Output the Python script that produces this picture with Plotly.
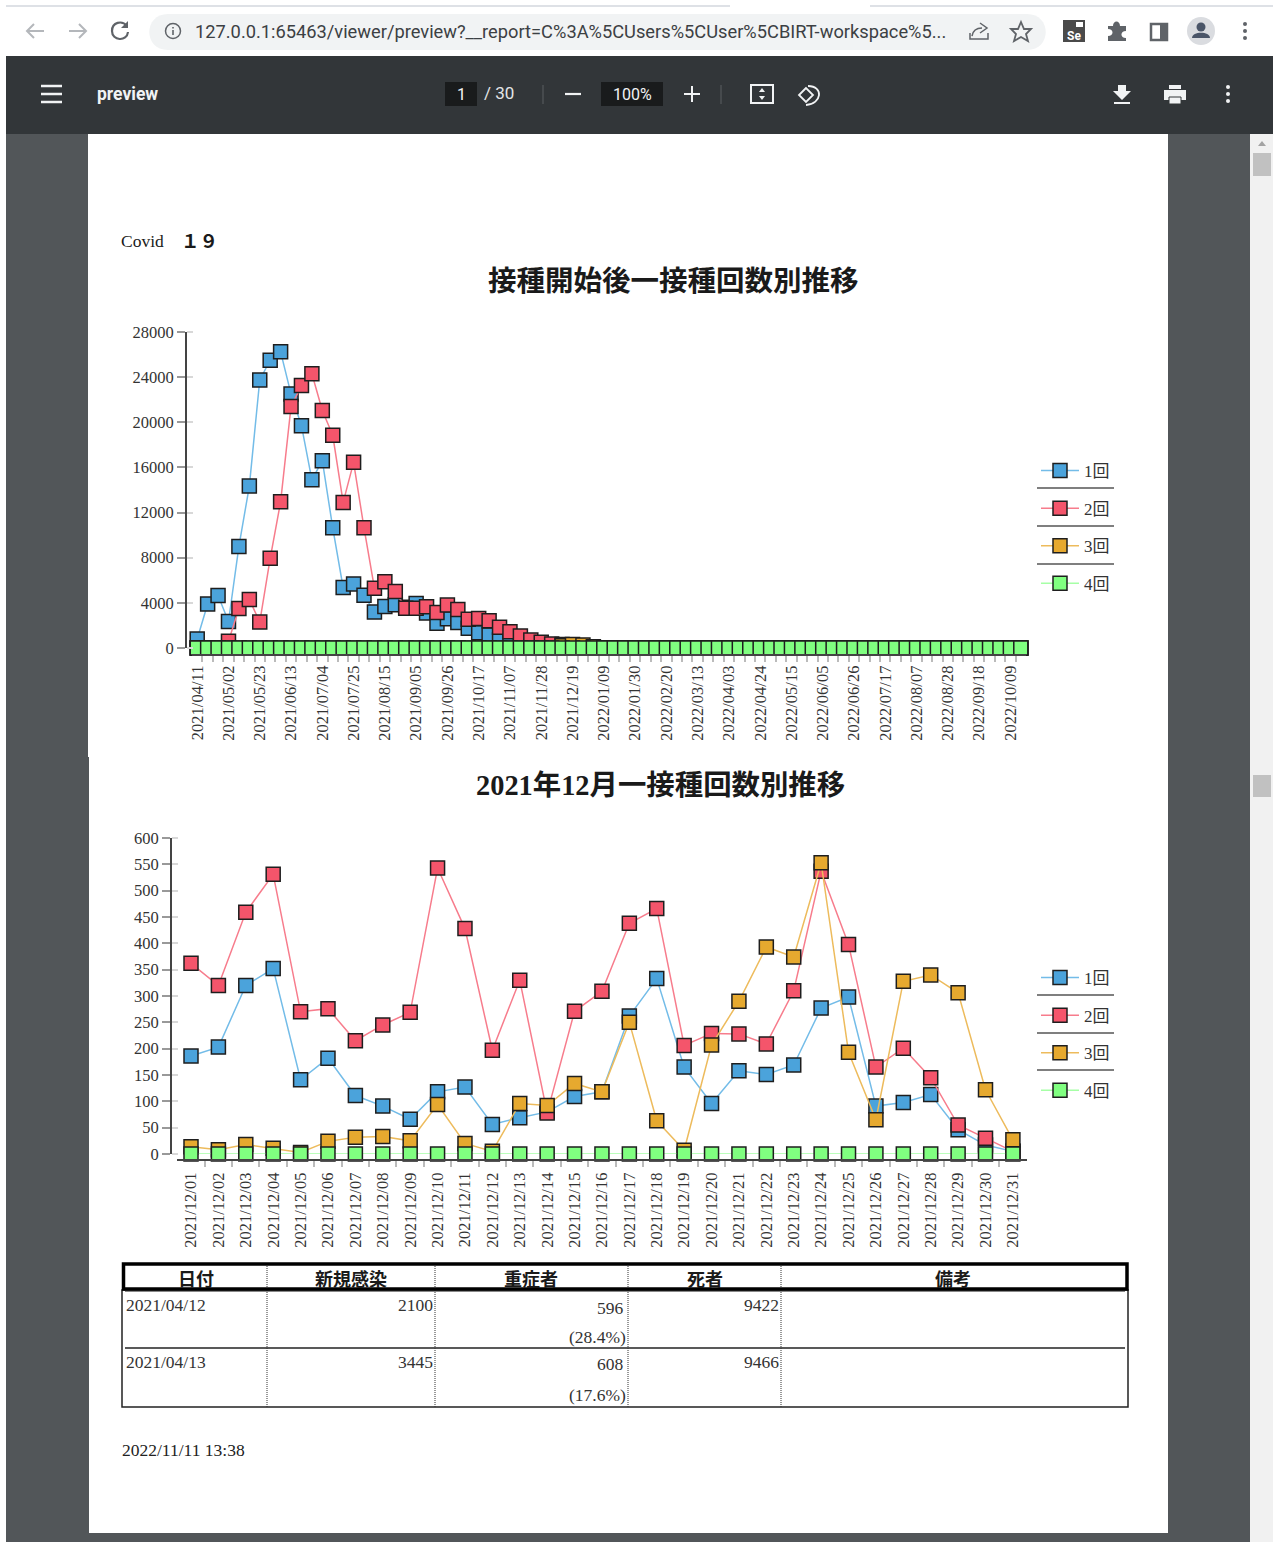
import re
import pandas as pd
import plotly.graph_objects as go

W, H = 1275, 1542
SERIF = "Liberation Serif, Noto Sans CJK JP"
GOTHIC = "Noto Sans CJK JP, sans-serif"
UI = "Roboto, Open Sans, sans-serif"

# --- data ---------------------------------------------------------------
SERIES_NAMES = ["1回", "2回", "3回", "4回"]
MARKER_COLORS = ["#4BA3DB", "#F4556B", "#E6A92F", "#80FF80"]
LINE_COLORS = ["#73BCE8", "#F77C8C", "#EDBB5C", "#A6FFA6"]

weeks = pd.date_range("2021-04-11", periods=80, freq="7D")
weekly_1 = [800, 3900, 4650, 2350, 9000, 14350, 23750, 25500, 26250, 22500, 19700, 14900,
            16600, 10650, 5350, 5680, 4680, 3180, 3680, 3830, 3600, 3950, 3100, 2200, 2600,
            2270, 1750, 1350, 1150, 700, 500, 400, 250, 150, 100, 80, 50, 30] + [0] * 42
weekly_2 = [0, 0, 0, 600, 3500, 4300, 2300, 7950, 12950, 21400, 23250, 24300, 21050, 18850,
            12900, 16450, 10650, 5300, 5880, 5000, 3530, 3530, 3650, 3150, 3800, 3420, 2540,
            2620, 2420, 1830, 1450, 1060, 700, 500, 350, 320, 150, 50] + [0] * 42
weekly_3 = [0] * 35 + [200, 320, 270, 100] + [0] * 41
weekly_4 = [0] * 80

days = pd.date_range("2021-12-01", periods=31, freq="D")
daily_1 = [186, 203, 320, 352, 141, 182, 111, 91, 66, 118, 127, 56, 69, 80, 109, 118, 262, 333,
           165, 96, 158, 151, 169, 277, 298, 91, 98, 113, 46, 17, 5]
daily_2 = [362, 320, 459, 531, 270, 276, 215, 245, 269, 543, 428, 197, 330, 78, 271, 309, 438,
           466, 206, 229, 228, 209, 310, 537, 398, 165, 201, 145, 55, 30, 5]
daily_3 = [14, 8, 18, 11, 3, 24, 32, 33, 25, 94, 20, 5, 96, 92, 134, 118, 250, 63, 7, 207, 290,
           393, 374, 553, 193, 65, 328, 340, 306, 122, 27]
daily_4 = [0] * 31

TITLE_1 = "接種開始後一接種回数別推移"
TITLE_2 = "2021年12月一接種回数別推移"

TABLE_HEADERS = ["日付", "新規感染", "重症者", "死者", "備考"]
TABLE_ROWS = [("2021/04/12", "2100", "596", "(28.4%)", "9422"),
              ("2021/04/13", "3445", "608", "(17.6%)", "9466")]

URL = "127.0.0.1:65463/viewer/preview?__report=C%3A%5CUsers%5CUser%5CBIRT-workspace%5..."


# --- pixel helpers for page furniture -------------------------------------
def fx(x):
    return x / W


def fy(y):
    return 1 - y / H


shapes, notes = [], []


def rect(x0, y0, x1, y1, fill=None, line=None, lw=1, dash=None, layer="below"):
    shapes.append(dict(type="rect", xref="paper", yref="paper", x0=fx(x0), x1=fx(x1), y0=fy(y0), y1=fy(y1),
                       fillcolor=fill, layer=layer,
                       line=dict(color=line, width=lw if line else 0, dash=dash)))


def seg(x0, y0, x1, y1, color, lw=1, dash=None, layer="below"):
    shapes.append(dict(type="line", xref="paper", yref="paper", x0=fx(x0), x1=fx(x1), y0=fy(y0), y1=fy(y1),
                       layer=layer, line=dict(color=color, width=lw, dash=dash)))


def disc(cx, cy, r, fill=None, line=None, lw=1):
    shapes.append(dict(type="circle", xref="paper", yref="paper", x0=fx(cx - r), x1=fx(cx + r),
                       y0=fy(cy - r), y1=fy(cy + r), fillcolor=fill, layer="below",
                       line=dict(color=line, width=lw if line else 0)))


def path(d, fill=None, line=None, lw=1):
    """Absolute M/L/C/Z path given in page pixels."""
    toks = re.findall(r"[MLCZ]|-?\d+\.?\d*", d)
    out, is_x = [], True
    for t in toks:
        if t in "MLCZ":
            out.append(t)
            is_x = True
        else:
            v = float(t)
            out.append(f"{fx(v):.5f}" if is_x else f"{fy(v):.5f}")
            is_x = not is_x
    shapes.append(dict(type="path", xref="paper", yref="paper", path=" ".join(out), layer="below",
                       fillcolor=fill, line=dict(color=line, width=lw if line else 0)))


def text(x, y, s, size, color="#222", anchor="left", family=SERIF, weight="normal"):
    notes.append(dict(xref="paper", yref="paper", x=fx(x), y=fy(y), text=s, showarrow=False,
                      xanchor=anchor, yanchor="middle", borderpad=0,
                      font=dict(family=family, size=size, color=color, weight=weight)))


# --- browser window -------------------------------------------------------
seg(6, 6, 730, 6, "#DEE1E6", 2)
seg(870, 6, 1273, 6, "#DEE1E6", 2)
shapes.append(dict(type="path", xref="paper", yref="paper", layer="below", fillcolor="#F1F3F4", line=dict(width=0),
                   path=" ".join([
                       f"M {fx(168)} {fy(14)} L {fx(1027)} {fy(14)}",
                       f"C {fx(1052)} {fy(14)} {fx(1052)} {fy(50)} {fx(1027)} {fy(50)}",
                       f"L {fx(168)} {fy(50)}",
                       f"C {fx(143)} {fy(50)} {fx(143)} {fy(14)} {fx(168)} {fy(14)} Z"])))
GREY = "#5F6368"
path("M 44 31 L 27 31 M 34 24 L 27 31 L 34 38", line="#B4B7BB", lw=2)
path("M 69 31 L 86 31 M 79 24 L 86 31 L 79 38", line="#B4B7BB", lw=2)
path("M 127 26 C 122 20 112 22 112 31 C 112 41 127 42 128 32", line=GREY, lw=2.2)
path("M 128 21 L 128 28 L 121 28 Z", fill=GREY)
disc(173, 31, 7.5, line=GREY, lw=1.5)
seg(173, 30, 173, 35, GREY, 1.6)
seg(173, 27, 173, 28.5, GREY, 1.6)
text(194, 31, URL, 18.28, "#3C4043", family=UI)
path("M 970 33 L 970 39 L 988 39 L 988 33 M 972 36 C 973 30 977 28 982 28 M 980 23 L 987 28 L 980 33", line=GREY, lw=1.5)
path("M 1021 22 L 1024 29 L 1031 29 L 1026 34 L 1028 41 L 1021 37 L 1014 41 L 1016 34 L 1011 29 L 1018 29 Z",
     line=GREY, lw=1.8)
rect(1063, 20, 1085, 42, fill="#4A4A4A")
rect(1076, 22, 1083, 27, fill="#FFFFFF")
text(1074, 36, "Se", 12, "#FFFFFF", "center", UI, "bold")
path("M 1108 26 L 1113 26 C 1113 20 1120 20 1120 26 L 1126 26 L 1126 31 C 1120 31 1120 38 1126 38 L 1126 41 "
     "L 1108 41 L 1108 36 C 1114 36 1114 29 1108 29 Z", fill=GREY)
rect(1151, 24, 1167, 40, line=GREY, lw=2.5)
rect(1160, 24, 1167, 40, fill=GREY)
disc(1201, 31, 14, fill="#DADCE0")
disc(1201, 27, 4.5, fill="#4A5568")
path("M 1192 38 C 1192 31 1210 31 1210 38 Z", fill="#4A5568")
for yy in (24, 31, 38):
    disc(1245, yy, 2, fill=GREY)

# --- viewer chrome --------------------------------------------------------
rect(6, 134, 1250, H, fill="#525659")
rect(6, 56, 1273, 134, fill="#323639")
rect(1250, 134, 1273, H, fill="#F1F1F1")
rect(1253, 153, 1271, 176, fill="#C1C1C1")
rect(1253, 775, 1271, 797, fill="#C1C1C1")
path("M 1258 146 L 1262 141 L 1266 146 Z", fill="#A3A3A3")
for yy in (86, 94, 102):
    seg(41, yy, 62, yy, "#F1F3F4", 2.5)
text(96, 94, "preview", 17.5, "#F1F3F4", family=UI, weight="bold")
rect(445, 82, 477, 106, fill="#191B1C")
text(461, 94, "1", 16, "#F1F3F4", "center", UI)
text(483, 93, "/ 30", 17, "#E3E5E7", family=UI)
seg(543, 85, 543, 104, "#5B5F63", 1)
seg(565, 94, 581, 94, "#F1F3F4", 2.2)
rect(601, 82, 663, 106, fill="#191B1C")
text(632, 94, "100%", 16, "#F1F3F4", "center", UI)
seg(684, 94, 700, 94, "#F1F3F4", 2)
seg(692, 86, 692, 102, "#F1F3F4", 2)
seg(721, 85, 721, 104, "#5B5F63", 1)
rect(751, 85, 773, 103, line="#F1F3F4", lw=2)
path("M 762 88 L 759 92 L 765 92 Z M 762 100 L 759 96 L 765 96 Z", fill="#F1F3F4")
path("M 806 88 L 799 95 L 806 102 L 813 95 Z", line="#F1F3F4", lw=1.8)
path("M 808 86 C 824 86 822 104 806 105", line="#F1F3F4", lw=1.8)
path("M 1118 85 L 1126 85 L 1126 91 L 1131 91 L 1122 100 L 1113 91 L 1118 91 Z", fill="#F1F3F4")
seg(1114, 103, 1130, 103, "#F1F3F4", 2)
rect(1169, 85, 1181, 89, fill="#F1F3F4")
rect(1164, 90, 1186, 100, fill="#F1F3F4")
rect(1169, 97, 1181, 104, fill="#F1F3F4", line="#323639", lw=1)
for yy in (87, 94, 101):
    disc(1228, yy, 2, fill="#F1F3F4")

# --- report page ----------------------------------------------------------
rect(88, 134, 1168, 757, fill="#FFFFFF")
rect(89, 757, 1168, 1533, fill="#FFFFFF")
text(120, 241, "Covid", 17.5, "#1A1A1A")
text(180, 240, "１９", 18.5, "#1A1A1A", family=GOTHIC, weight="bold")
text(673.5, 278, TITLE_1, 28.5, "#1A1A1A", "center", GOTHIC, "bold")
text(660.5, 785, TITLE_2, 28.4, "#1A1A1A", "center", SERIF, "bold")

# --- table drawn as ruled text --------------------------------------------
COLS = [267, 435, 628, 781]
rect(122, 1290, 1128, 1407, line="#222", lw=1.5)
seg(125, 1348, 1125, 1348, "#222", 1.5)
for cx in COLS:
    seg(cx, 1264, cx, 1407, "#333", 1, "1px,1px")
rect(123.5, 1264, 1127, 1289, line="#000", lw=3.5)
seg(125, 1291.5, 1125, 1291.5, "#888", 1.2)
for cx, label in zip([196, 351, 531, 705, 953], TABLE_HEADERS):
    text(cx, 1278, label, 18, "#1A1A1A", "center", GOTHIC, "bold")
for r, ys in zip(TABLE_ROWS, [(1305, 1308, 1337), (1362, 1364, 1395)]):
    text(125, ys[0], r[0], 17.5, "#333")
    text(433.5, ys[0], r[1], 17.5, "#333", "right")
    text(625, ys[1], r[2], 17.5, "#333", "right")
    text(627, ys[2], r[3], 17.5, "#333", "right")
    text(779.5, ys[0], r[4], 17.5, "#333", "right")
text(121, 1450, "2022/11/11 13:38", 17.5, "#222")

# legend separators
for yy in (488, 526, 564, 995, 1033, 1070):
    seg(1037, yy, 1114, yy, "#555", 1.5)

# --- charts ---------------------------------------------------------------
fig = go.Figure()


def add_chart(x, series, xid, yid, legend):
    for name, vals, mc, lc in zip(SERIES_NAMES, series, MARKER_COLORS, LINE_COLORS):
        fig.add_trace(go.Scatter(x=x, y=vals, name=name, mode="lines+markers", xaxis=xid, yaxis=yid,
                                 legend=legend, legendgroup=legend + name, cliponaxis=False,
                                 line=dict(color=lc, width=1.5),
                                 marker=dict(symbol="square", size=14, color=mc,
                                             line=dict(color="#1E1E1E", width=1.5))))


add_chart(weeks, [weekly_1, weekly_2, weekly_3, weekly_4], "x", "y", "legend")
add_chart(days, [daily_1, daily_2, daily_3, daily_4], "x2", "y2", "legend2")


def axes(x, step, left, right, base, top, zero, yleft, ymax, ydtick, labels, standoff):
    half = step / 2
    bounds = [(d + half) for d in x[:-1]]
    ax_x = dict(type="date", range=[x[0] - half, x[-1] + half], domain=[fx(left), fx(right)],
                anchor="free", position=fy(base), showgrid=False, zeroline=False,
                showline=True, linecolor="#444", linewidth=2, tickmode="array", tickvals=labels,
                ticktext=[d.strftime("%Y/%m/%d") for d in labels], ticks="", tickangle=-90,
                ticklabelstandoff=standoff,
                tickfont=dict(family=SERIF, size=16.5, color="#333"),
                minor=dict(tickmode="array", tickvals=bounds, ticks="outside", ticklen=6,
                           tickcolor="#BBB", tickwidth=1.5, showgrid=False))
    ax_y = dict(range=[0, ymax], domain=[fy(zero), fy(top)], anchor="free", position=fx(yleft),
                showgrid=False, zeroline=False, showline=True, linecolor="#444", linewidth=2,
                tickmode="linear", tick0=0, dtick=ydtick, ticks="outside", ticklen=8,
                tickcolor="#999", tickwidth=1.5, tickformat="d",
                tickfont=dict(family=SERIF, size=16.5, color="#333"),
                minor=dict(tickmode="array", ticks="inside", ticklen=6, tickcolor="#D8D8D8", tickwidth=1.5,
                           tickvals=[v + ymax * 1e-5 for v in range(0, ymax + 1, ydtick)], showgrid=False))
    return ax_x, ax_y


x1, y1 = axes(weeks, pd.Timedelta(days=7), 192, 1026, 655, 332, 648, 186, 28000, 4000, list(weeks[::3]), 3)
x2, y2 = axes(days, pd.Timedelta(days=1), 177.3, 1026.6, 1160, 838, 1154, 171, 600, 50, list(days), 5)

legend_font = dict(family=SERIF, size=17, color="#333")


def legend_box(y_px):
    return dict(x=fx(1036), y=fy(y_px), xanchor="left", yanchor="top", font=legend_font,
                bgcolor="rgba(0,0,0,0)", borderwidth=0, tracegroupgap=12.5, itemwidth=38,
                itemclick=False, itemdoubleclick=False)


# margins stay fixed at zero: every paper fraction then maps straight onto the page
fig.update_layout(width=W, height=H, autosize=False,
                  margin=dict(l=0, r=0, t=0, b=0, pad=0, autoexpand=False),
                  paper_bgcolor="#FFFFFF", plot_bgcolor="rgba(0,0,0,0)",
                  xaxis=x1, yaxis=y1, xaxis2=x2, yaxis2=y2,
                  shapes=shapes, annotations=notes, showlegend=True,
                  legend=legend_box(453), legend2=legend_box(960))

fig.write_html("out.html", config=dict(displayModeBar=False))
